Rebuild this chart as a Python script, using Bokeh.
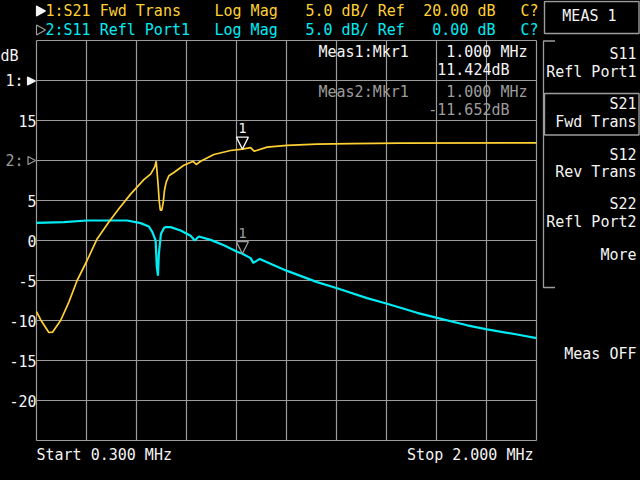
import numpy as np
from bokeh.plotting import figure
from bokeh.models import Range1d, Label
from bokeh.embed import file_html
from bokeh.resources import INLINE

# ---------------- data ----------------
F_START, F_STOP = 0.300, 2.000          # MHz
SCALE_DB_DIV = 5.0
REF1_DB, REF2_DB = 20.0, 0.0            # reference levels
REF1_POS, REF2_POS = 20.0, 10.0         # reference positions on the displayed (trace 1) axis

freq_s21 = [0.300, 0.314, 0.342, 0.355, 0.382, 0.410, 0.438, 0.472, 0.506, 0.546,
            0.580, 0.620, 0.665, 0.688, 0.702, 0.707, 0.714, 0.717, 0.721, 0.726,
            0.731, 0.735, 0.741, 0.750, 0.767, 0.801, 0.833, 0.843, 0.858, 0.903,
            0.960, 1.000, 1.028, 1.040, 1.084, 1.152, 1.254, 1.368, 1.538, 2.000]
s21_db = [-8.9, -9.9, -11.5, -11.45, -10.0, -7.7, -5.0, -2.5, 0.2, 2.3,
          3.96, 5.8, 7.6, 8.3, 9.2, 9.9, 6.7, 5.0, 3.8, 3.8,
          4.8, 6.25, 7.3, 8.1, 8.5, 9.4, 9.9, 9.5, 9.9, 10.75,
          11.25, 11.424, 11.6, 11.16, 11.67, 11.9, 12.04, 12.1, 12.17, 12.2]

freq_s11 = [0.300, 0.393, 0.472, 0.608, 0.654, 0.682, 0.694, 0.705, 0.709, 0.713,
            0.716, 0.723, 0.734, 0.739, 0.756, 0.790, 0.824, 0.838, 0.852, 0.892,
            0.937, 0.982, 1.000, 1.028, 1.037, 1.059, 1.152, 1.254, 1.322, 1.424,
            1.492, 1.594, 1.662, 1.764, 1.832, 1.934, 2.000]
s11_db = [-7.8, -7.7, -7.5, -7.5, -7.83, -8.25, -8.96, -10.0, -13.3, -14.4,
          -11.67, -9.2, -8.42, -8.33, -8.33, -8.75, -9.4, -10.0, -9.5, -9.92,
          -10.6, -11.4, -11.652, -12.2, -12.8, -12.3, -13.8, -15.2, -15.96, -17.2,
          -17.9, -19.04, -19.67, -20.6, -21.1, -21.75, -22.2]

marker_freq = 1.000
marker_s21 = 11.424
marker_s11 = -11.652

y_tick_values = [15, 5, 0, -5, -10, -15, -20]

# ---------------- styling / geometry ----------------
YELLOW = "#FFD034"
CYAN = "#00ECF4"
WHITE = "#F4F4F4"
GRAY = "#9C9C9C"
FONT = "DejaVu Sans Mono"
FS = "15px"
TEXT_DY = -6.0               # baseline correction (px)

W, H = 640, 480
PAGE = 0
GX0, GW = 36.0, 500.0        # graticule left edge and width (px)
GY_TOP, GH = 40.0, 400.0     # graticule top and height (px)
Y_TOP = REF1_POS + 1 * SCALE_DB_DIV   # 25 dB at top
PX_PER_DB = GH / (10 * SCALE_DB_DIV)


def fx(px):
    return F_START + (px - GX0) * (F_STOP - F_START) / GW


def fy(py):
    return Y_TOP - (py - GY_TOP) / PX_PER_DB


def py_of(v):
    return GY_TOP + (Y_TOP - v) * PX_PER_DB


p = figure(width=W, height=H, output_backend="svg", toolbar_location=None,
           x_range=Range1d(fx(PAGE), fx(PAGE + W)), y_range=Range1d(fy(PAGE + H), fy(PAGE)),
           x_axis_location=None, y_axis_location=None, min_border=0,
           background_fill_color="#000000", border_fill_color="#000000")
p.outline_line_color = None
p.grid.visible = False

# graticule
xg = [F_START + k * (F_STOP - F_START) / 10 for k in range(11)]
yg = [Y_TOP - k * SCALE_DB_DIV for k in range(11)]
p.segment(x0=xg, x1=xg, y0=[yg[-1]] * 11, y1=[yg[0]] * 11, line_color=GRAY, line_width=1.2)
p.segment(x0=[F_START] * 11, x1=[F_STOP] * 11, y0=yg, y1=yg, line_color=GRAY, line_width=1.2)

# traces
s11_disp = [v - REF2_DB + REF2_POS for v in s11_db]
s21_disp = [v - REF1_DB + REF1_POS for v in s21_db]
p.line(freq_s11, s11_disp, line_color=CYAN, line_width=2.2)
p.line(freq_s21, s21_disp, line_color=YELLOW, line_width=1.7)

# markers (inverted triangles with tip on the trace)
hw = 6 * (F_STOP - F_START) / GW
hh = 12 / PX_PER_DB
for val, col, disp in [(marker_s11, GRAY, marker_s11 - REF2_DB + REF2_POS),
                       (marker_s21, WHITE, marker_s21 - REF1_DB + REF1_POS)]:
    p.patch([marker_freq - hw, marker_freq + hw, marker_freq],
            [disp + hh, disp + hh, disp], fill_color=None, line_color=col, line_width=1.3)
    p.add_layout(Label(x=marker_freq, y=disp + (15 - TEXT_DY) / PX_PER_DB, text="1", text_color=col,
                       text_font=FONT, text_font_size="14px", text_align="center",
                       text_baseline="alphabetic"))


def txt(s, px, base, color, align="left"):
    p.add_layout(Label(x=fx(px), y=fy(base + TEXT_DY), text=s, text_color=color, text_font=FONT,
                       text_font_size=FS, text_align=align, text_baseline="alphabetic"))


def tri(xs_px, ys_px, color, filled):
    p.patch([fx(v) for v in xs_px], [fy(v) for v in ys_px],
            fill_color=color if filled else None, line_color=color, line_width=1.2)


# header lines
tri([36, 36, 45], [5.5, 15.5, 10.5], WHITE, True)
txt("1:S21 Fwd Trans", 45, 16, YELLOW)
txt("Log Mag", 214, 16, YELLOW)
txt("5.0 dB/ Ref", 305, 16, YELLOW)
txt("%.2f dB" % REF1_DB, 495, 16, YELLOW, "right")
txt("C?", 520, 16, YELLOW)

tri([36, 36, 45], [24.5, 34.5, 29.5], GRAY, False)
txt("2:S11 Refl Port1", 45, 35, CYAN)
txt("Log Mag", 214, 35, CYAN)
txt("5.0 dB/ Ref", 305, 35, CYAN)
txt("%.2f dB" % REF2_DB, 495, 35, CYAN, "right")
txt("C?", 520, 35, CYAN)

# left axis labels
txt("dB", 0, 61, WHITE)
txt("1:", 23, py_of(REF1_POS) + 6.5, WHITE, "right")
tri([27, 27, 35], [76.5, 84.5, 80.5], WHITE, True)
txt("2:", 23, py_of(REF2_POS) + 6.5, GRAY, "right")
tri([27.5, 27.5, 35], [156, 164, 160], GRAY, False)
for v in y_tick_values:
    txt("%d" % v, 36, py_of(v) + 6.5, WHITE, "right")

# bottom
txt("Start %.3f MHz" % F_START, 36, 460, WHITE)
txt("Stop %.3f MHz" % F_STOP, 533, 460, WHITE, "right")

# marker readouts
txt("Meas1:Mkr1", 318, 57.5, WHITE)
txt("%.3f MHz" % marker_freq, 527, 57.5, WHITE, "right")
txt("%.3fdB" % marker_s21, 509, 75, WHITE, "right")
txt("Meas2:Mkr1", 318, 97.5, GRAY)
txt("%.3f MHz" % marker_freq, 527, 97.5, GRAY, "right")
txt("%.3fdB" % marker_s11, 509, 115, GRAY, "right")

# softkey panel
p.quad(left=[fx(544), fx(544)], right=[fx(638.5), fx(638.5)],
       top=[fy(1), fy(93)], bottom=[fy(33), fy(134.5)],
       fill_color=None, line_color=GRAY, line_width=1.4)
p.multi_line(xs=[[fx(554.5), fx(543), fx(543), fx(554.5)]],
             ys=[[fy(40.5), fy(40.5), fy(287), fy(287)]], line_color=GRAY, line_width=1.3)
txt("MEAS 1", 616, 21, WHITE, "right")
keys = [("S11", 59.5), ("Refl Port1", 77), ("S21", 109.5), ("Fwd Trans", 127.5),
        ("S12", 160), ("Rev Trans", 177.5), ("S22", 209), ("Refl Port2", 227),
        ("More", 260), ("Meas OFF", 359.5)]
for s, b in keys:
    txt(s, 636, b, WHITE, "right")

html = file_html(p, INLINE)
html = html.replace("</head>", "<style>html, body { background-color: #000000; }</style></head>", 1)
open("out.html", "w").write(html)
